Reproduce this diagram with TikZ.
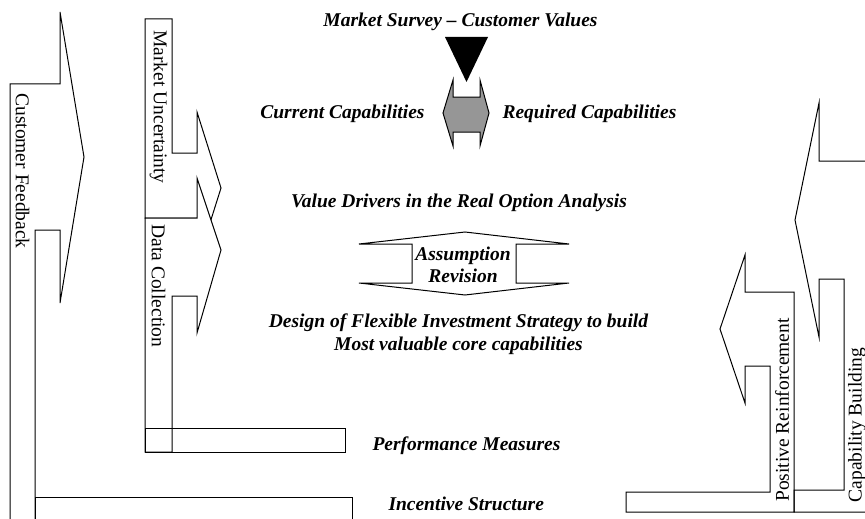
\documentclass[tikz,border=0pt]{standalone}
\usepackage{fontspec}
\setmainfont{Liberation Serif}
\usetikzlibrary{positioning}
\definecolor{capgray}{HTML}{969696}

\begin{document}
\begin{tikzpicture}[x=1pt,y=-1pt,line width=1pt]
  \tikzset{bentarrow/.style={draw=black, line join=miter},
    sidelabel/.style={font=\fontsize{19.5}{21}\selectfont, inner sep=0pt},
    keylabel/.style={font=\fontsize{19.5}{21}\selectfont\bfseries\itshape, inner sep=0pt}}
  \useasboundingbox (0,0) rectangle (865,519);
  \clip (0,0) rectangle (865,519);
  % left loops
  \draw[bentarrow] (10,540) -- (10,84) -- (60,84) -- (60,12) -- (84,157) -- (60,303) -- (60,230) -- (35,230) -- (35,540);
  \draw[bentarrow] (35,497) rectangle (352,540);
  \draw[bentarrow, fill=white] (145,218) -- (145,19) -- (172,19) -- (172,153) -- (197,153) -- (197,112) -- (221,188) -- (197,264) -- (197,218) -- cycle;
  \draw[bentarrow, fill=white] (145,452) -- (145,218) -- (197,218) -- (197,178) -- (221,250) -- (197,333) -- (197,296) -- (172,296) -- (172,452) -- cycle;
  \draw[bentarrow] (145,428) rectangle (345,452);
  % right loops
  \draw[bentarrow] (626,492) -- (770,492) -- (770,366) -- (745,366) -- (745,403) -- (720,329) -- (745,255) -- (745,292) -- (794,292) -- (794,512) -- (626,512) -- cycle;
  \draw[bentarrow] (794,490) -- (844,490) -- (844,279) -- (819,279) -- (819,337) -- (795,220) -- (819,103) -- (819,161) -- (880,161) -- (880,512) -- (794,512) -- cycle;
  % centre column
  \fill (445,37) -- (488,37) -- (466.5,82) -- cycle;
  \draw[bentarrow, fill=capgray] (453,80) -- (453,97) -- (480,97) -- (480,80) -- (489,113) -- (480,146) -- (480,132) -- (453,132) -- (453,146) -- (443,113) -- cycle;
  \draw[bentarrow] (465,232) -- (569,244) -- (516,244) -- (516,283) -- (569,283) -- (465,295) -- (359,283) -- (412,283) -- (412,244) -- (359,244) -- cycle;
  % side labels
  \node[sidelabel, rotate=-90] (feedback) at (22.5,171) {Customer Feedback};
  \node[sidelabel, rotate=-90] (uncertain) at (158.5,107) {Market Uncertainty};
  \node[sidelabel, rotate=-90] (datacoll) at (158.5,286) {Data Collection};
  \node[sidelabel, rotate=90] (reinforce) at (782,410) {Positive Reinforcement};
  \node[sidelabel, rotate=90] (capbuild) at (857,425) {Capability Building};
  % key labels
  \node[keylabel, anchor=base] (survey) at (460.5,27) {Market Survey -- Customer Values};
  \node[keylabel, anchor=base east] (current) at (425,118) {Current Capabilities};
  \node[keylabel, anchor=base west] (required) at (502,118) {Required Capabilities};
  \node[keylabel, anchor=base] (drivers) at (459,207) {Value Drivers in the Real Option Analysis};
  \node[keylabel, anchor=base] (assume1) at (463,260) {Assumption};
  \node[keylabel, below=4pt of assume1] (assume2) {Revision};
  \node[keylabel, anchor=base] (design1) at (458.5,327) {Design of Flexible Investment Strategy to build};
  \node[keylabel, below=5pt of design1] (design2) {Most valuable core capabilities};
  \node[keylabel, anchor=base west] (perform) at (372,450) {Performance Measures};
  \node[keylabel, anchor=base west] (incent) at (388,510) {Incentive Structure};
\end{tikzpicture}
\end{document}
